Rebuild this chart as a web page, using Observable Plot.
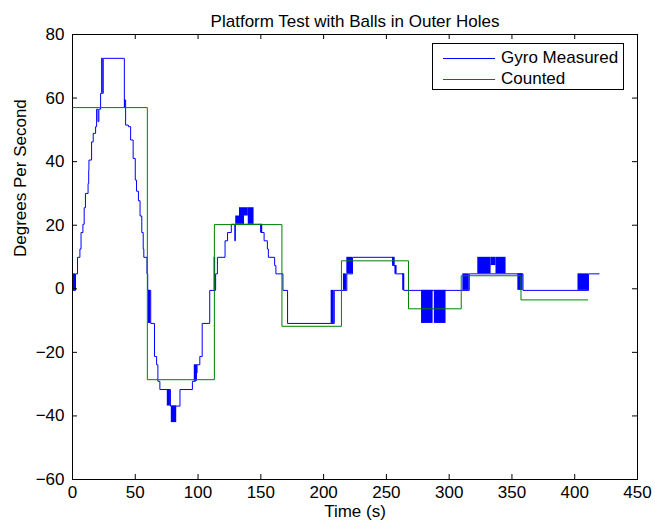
<!DOCTYPE html>
<html>
<head>
<meta charset="utf-8">
<script src="https://cdn.jsdelivr.net/npm/d3@7"></script>
<script src="https://cdn.jsdelivr.net/npm/@observablehq/plot@0.6"></script>
<style>
  body { margin: 0; background: #fff; }
  #chart { position: relative; width: 655px; height: 531px; font-family: "Liberation Sans", Arial, Helvetica, sans-serif; color: #000; }
  #chart svg { display: block; }
  .legend { position: absolute; left: 432px; top: 43px; width: 192px; height: 47px; box-sizing: border-box; border: 1px solid #000; background: #fff; }
  .legend .sample { position: absolute; left: 10px; width: 52px; height: 0; border-top: 1px solid; }
  .legend .name { position: absolute; left: 68px; font-size: 17px; line-height: 20px; white-space: nowrap; }
</style>
</head>
<body>
<div id="chart"></div>
<script>
// Chart text
const titleText = "Platform Test with Balls in Outer Holes";
const xLabel = "Time (s)";
const yLabel = "Degrees Per Second";
const seriesNames = ["Gyro Measured", "Counted"];

// Axis ticks
const xTicks = [0, 50, 100, 150, 200, 250, 300, 350, 400, 450];
const yTicks = [-60, -40, -20, 0, 20, 40, 60, 80];

// Gyro reading: time (s) where the quantised rate changes, and the new rate (deg/s)
const gyroTime = [
  0.5, 2.4, 4.0, 5.9, 6.8, 8.3, 9.3, 10.3, 12.4, 12.9, 13.1, 15.2, 16.5, 18.4, 19.2, 20.3, 21.0, 22.4, 24.5,
  41.3, 42.3, 44.5, 46.3, 48.3, 50.0, 51.0, 52.5, 53.8, 55.2, 56.3, 56.8, 59.3, 59.9,
  62.3, 65.3, 67.0, 68.0, 69.6, 78.0, 85.6, 95.5, 97.9, 99.2, 101.4, 103.3, 109.3,
  114.0, 115.4, 121.5, 123.5, 126.5, 129.3, 129.7, 150.0, 152.6, 155.2, 156.0, 161.0, 162.0, 167.6, 171.3,
  208.5, 218.5, 223.0, 255.0, 257.0, 263.8, 316.0, 358.8, 411.0, 419.5
];
const gyroRate = [
  -0.5, 4.7, 9.9, 12.5, 17.7, 20.3, 25.5, 30.0, 33.1, 37.3, 40.5, 46.2, 48.9, 51.0, 56.5, 52.6, 56.5, 61.5, 72.5,
  59.4, 51.5, 51.0, 46.8, 41.0, 34.2, 30.7, 27.7, 22.9, 17.7, 12.5, 9.9, 4.7, -0.5,
  -10.9, -21.3, -23.9, -29.1, -31.7, -36.9, -31.7, -29.1, -26.5, -23.9, -21.3, -10.9, -0.5,
  4.7, 9.9, 15.1, 17.7, 20.3, 15.1, 20.3, 17.7, 15.1, 12.5, 9.9, 7.3, 4.7, -0.5, -10.9,
  -0.5, 4.7, 9.9, 7.3, 4.7, -0.5, 4.7, -0.5, 4.7, 4.7
];

// Stretches where the gyro output flickers between two adjacent levels
const flickerStart = [0.5, 23.2, 41.3, 60.5, 75.5, 78.7, 97.0, 112.8, 130.0, 133.0, 137.0, 140.0, 150.0, 206.0, 215.8, 218.5, 255.0, 257.0, 263.0, 278.0, 288.2, 310.9, 322.8, 333.4, 337.3, 354.7, 402.6];
const flickerEnd   = [2.4, 24.5, 42.3, 62.3, 78.0, 83.0, 99.5, 114.0, 133.0, 137.0, 140.0, 144.6, 151.5, 208.5, 218.5, 223.0, 257.0, 258.5, 264.5, 287.2, 297.5, 316.0, 333.4, 337.3, 345.3, 358.8, 411.0];
const flickerLow   = [-0.5, 61.5, 56.7, -10.9, -36.9, -42.1, -29.1, -0.5, 20.3, 20.3, 22.9, 20.3, 17.7, -10.9, -0.5, 4.7, 7.3, 4.7, -0.5, -10.9, -10.9, -0.5, 4.7, 7.3, 4.7, -0.5, -0.5];
const flickerHigh  = [4.7, 72.5, 59.4, -0.5, -31.7, -36.9, -23.9, 9.9, 22.9, 25.5, 25.5, 25.5, 20.3, -0.5, 4.7, 9.9, 9.9, 7.3, 4.7, -0.5, -0.5, 4.7, 9.9, 9.9, 9.9, 4.7, 4.7];

// Rate counted from the balls: start time of each interval and its rate
const countedTime = [0, 59.6, 113.0, 166.8, 214.2, 267.6, 309.6, 357.2, 410.4];
const countedRate = [57.0, -28.6, 20.2, -11.8, 8.8, -6.3, 4.1, -3.5, -3.5];

const gyro = gyroTime.map((t, i) => ({t, v: gyroRate[i]}));
const counted = countedTime.map((t, i) => ({t, v: countedRate[i]}));
const flicker = flickerStart.map((t, i) => ({t1: t, t2: flickerEnd[i], lo: flickerLow[i], hi: flickerHigh[i]}));

const gyroColor = "#0000ff";
const countedColor = "#008000";

const W = 655, H = 531;
const M = {top: 34, right: 18, bottom: 52, left: 72};
const frameW = W - M.left - M.right;
const frameH = H - M.top - M.bottom;
const tickLen = 5;

const chart = Plot.plot({
  width: W,
  height: H,
  marginTop: M.top,
  marginRight: M.right,
  marginBottom: M.bottom,
  marginLeft: M.left,
  style: {fontFamily: '"Liberation Sans", Arial, Helvetica, sans-serif', fontSize: "17px", color: "#000", background: "#fff"},
  x: {domain: [0, 450]},
  y: {domain: [-60, 80]},
  marks: [
    Plot.rect(flicker, {x1: "t1", x2: "t2", y1: "lo", y2: "hi", fill: gyroColor}),
    Plot.line(gyro, {x: "t", y: "v", curve: "step-after", stroke: gyroColor, strokeWidth: 1}),
    Plot.line(counted, {x: "t", y: "v", curve: "step-after", stroke: countedColor, strokeWidth: 1}),
    Plot.frame({stroke: "#000", strokeWidth: 1}),
    // inward ticks on all four sides
    Plot.tickX(xTicks, {x: d => d, insetTop: frameH - tickLen, stroke: "#000"}),
    Plot.tickX(xTicks, {x: d => d, insetBottom: frameH - tickLen, stroke: "#000"}),
    Plot.tickY(yTicks, {y: d => d, insetRight: frameW - tickLen, stroke: "#000"}),
    Plot.tickY(yTicks, {y: d => d, insetLeft: frameW - tickLen, stroke: "#000"}),
    Plot.axisX({ticks: xTicks, tickSize: 0, tickPadding: 6, label: null, fontSize: 17}),
    Plot.axisY({ticks: yTicks, tickSize: 0, tickPadding: 8, label: null, fontSize: 17}),
    Plot.text([titleText], {frameAnchor: "top", text: d => d, dy: -20, fontSize: 17}),
    Plot.text([xLabel], {frameAnchor: "bottom", text: d => d, dy: 37, fontSize: 17}),
    Plot.text([yLabel], {frameAnchor: "left", text: d => d, dx: -52, rotate: -90, fontSize: 17})
  ]
});

const root = document.getElementById("chart");
root.appendChild(chart);

// Legend box in the upper right corner of the axes
const legend = document.createElement("div");
legend.className = "legend";
[[seriesNames[0], gyroColor, 14], [seriesNames[1], countedColor, 35]].forEach(([name, color, cy]) => {
  const s = document.createElement("div");
  s.className = "sample";
  s.style.borderTopColor = color;
  s.style.top = cy + "px";
  legend.appendChild(s);
  const n = document.createElement("div");
  n.className = "name";
  n.textContent = name;
  n.style.top = (cy - 10) + "px";
  legend.appendChild(n);
});
root.appendChild(legend);
</script>
</body>
</html>
